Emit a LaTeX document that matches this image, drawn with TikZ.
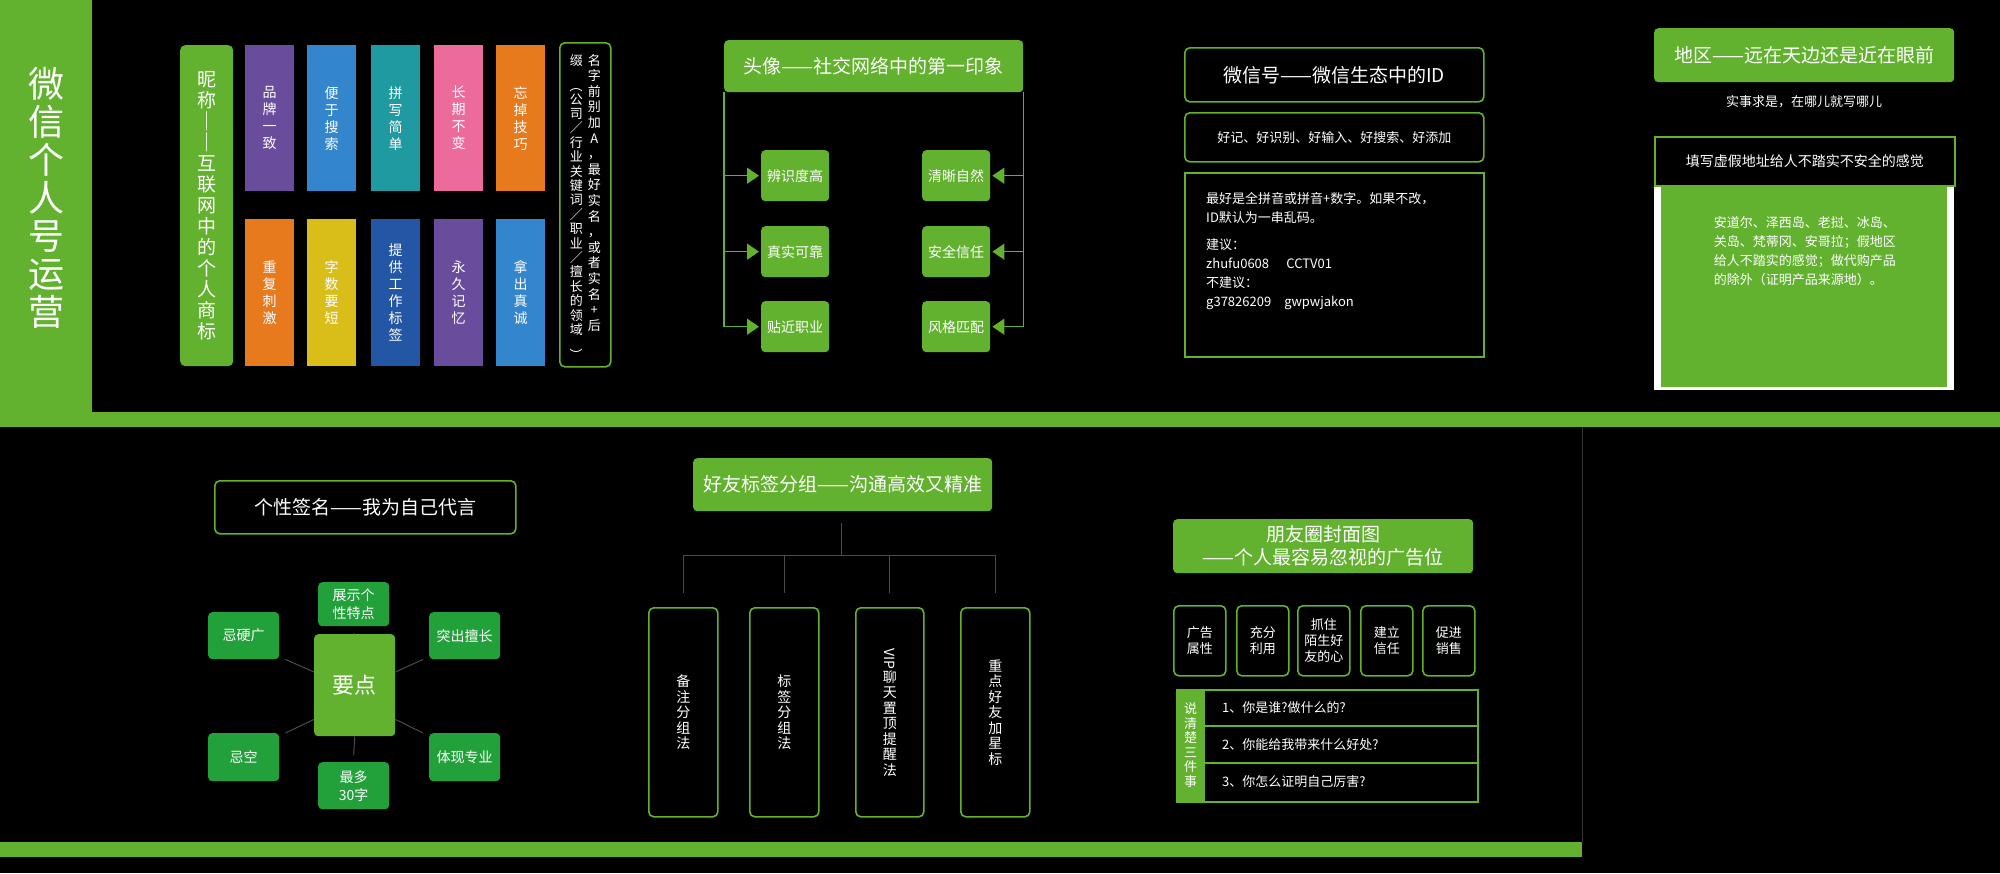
\documentclass[tikz,border=0pt]{standalone}
\usepackage{fontspec}
\setmainfont{Noto Sans CJK SC}
\XeTeXlinebreaklocale "zh"
\XeTeXlinebreakskip=0pt plus 1pt
\usetikzlibrary{shapes,arrows,arrows.meta,positioning,calc}
\usepackage{xcolor}
\definecolor{wgreen}{HTML}{62B22F}
\definecolor{dgreen}{HTML}{22A03A}
\definecolor{cpurple}{HTML}{6A4C9C}
\definecolor{cblue}{HTML}{3385CC}
\definecolor{cteal}{HTML}{1E9AA0}
\definecolor{cpink}{HTML}{EC6A9C}
\definecolor{corange}{HTML}{E87A1E}
\definecolor{cyellow}{HTML}{D9BE1A}
\definecolor{cdblue}{HTML}{2456A6}
\newcommand{\fs}[2]{\fontsize{#1pt}{#2pt}\selectfont}
\tikzset{
  box/.style={inner sep=0pt, text=white, align=center},
  gbox/.style={box, fill=wgreen, rounded corners=4pt},
  obox/.style={box, draw=wgreen, line width=1.6pt, fill=black, rounded corners=5pt},
  bar/.style={box, text width=15pt, font=\fs{14}{17}},
  vtext/.style={text=white, align=center, inner sep=0pt},
  link/.style={draw=wgreen, line width=1.4pt},
  gline/.style={draw=gray!60!black, line width=1pt},
}
\newcommand{\rect}[5][]{\node[#1, minimum width=#4-#2, minimum height=#5-#3, anchor=north west] at (#2,#3)}
\begin{document}
\begin{tikzpicture}[x=1pt,y=-1pt]
\fill[black] (0,0) rectangle (2000,873);
\useasboundingbox (0,0) rectangle (2000,873);
% frame bands
\fill[wgreen] (0,0) rectangle (92,427);
\fill[wgreen] (92,412) rectangle (2000,427);
\fill[wgreen] (0,842) rectangle (1582,857);
\draw[gray!40!black, line width=1pt] (1582,427) -- (1582,842);
\node[vtext, text width=40pt, font=\fs{36}{38}] (title) at (46,198) {微信个人号运营};
% nickname
\rect[gbox, rounded corners=5pt]{180}{45}{233}{366} (nick) {};
\node[vtext, text width=20pt, font=\fs{19}{21}] at (nick) {昵称｜｜互联网中的个人商标};
\foreach \x/\c/\t in {245/cpurple/品牌一致, 307/cblue/便于搜索, 371/cteal/拼写简单, 434/cpink/长期不变, 496/corange/忘掉技巧}
  \rect[fill=\c, bar]{\x}{45}{\x+49}{191} (top\x) {\t};
\foreach \x/\c/\t in {245/corange/重复刺激, 307/cyellow/字数要短, 371/cdblue/提供工作标签, 434/cpurple/永久记忆, 496/cblue/拿出真诚}
  \rect[fill=\c, bar]{\x}{219}{\x+49}{366} (bot\x) {\t};
\rect[obox]{559}{42}{610}{366} (prefix) {};
\node[vtext, font=\fs{13}{15.6}, anchor=north] at ([xshift=9pt,yshift=-12pt]prefix.north)
  {名\\字\\前\\别\\加\\A\\，\\最\\好\\实\\名\\，\\或\\者\\实\\名\\+\\后};
\node[vtext, font=\fs{13}{14.4}, anchor=north] at ([xshift=-9pt,yshift=-12pt]prefix.north)
  {缀\\\rotatebox{-90}{（}\\公\\司\\／\\行\\业\\关\\键\\词\\／\\职\\业\\／\\擅\\长\\的\\领\\域\\\rotatebox{-90}{）}};
% avatar
\rect[gbox, font=\fs{19}{23}]{724}{40}{1023}{92} (avatar) {头像——社交网络中的第一印象};
\coordinate (al) at (avatar.south west);
\coordinate (ar) at (avatar.south east);
\foreach \y/\l/\r [count=\i] in {150/辨识度高/清晰自然, 226/真实可靠/安全信任, 301/贴近职业/风格匹配} {
  \rect[gbox, font=\fs{14}{17}]{761}{\y}{829}{\y+51} (al\i) {\l};
  \rect[gbox, font=\fs{14}{17}]{922}{\y}{990}{\y+51} (ar\i) {\r};
  \draw[link, -{Triangle[width=16pt,length=12pt]}] (al|-al\i.west) -- ([xshift=-2pt]al\i.west);
  \draw[link, -{Triangle[width=16pt,length=12pt]}] (ar|-ar\i.east) -- ([xshift=2pt]ar\i.east);
}
\draw[link] (al) -- (al|-al3.west);
\draw[link] (ar) -- (ar|-ar3.east);
% wechat id
\rect[obox, font=\fs{19}{23}]{1184}{47}{1483}{101} (wxid) {微信号——微信生态中的ID};
\rect[obox, font=\fs{13}{16}]{1184}{112}{1483}{161} (easy) {好记、好识别、好输入、好搜索、好添加};
\rect[obox, rounded corners=0pt, line width=2.4pt]{1184}{172}{1483}{356} (idtip) {};
\node[vtext, align=left, text width=270pt, font=\fs{13}{19}, anchor=north west] at ([xshift=22pt,yshift=-20pt]idtip.north west)
  {最好是全拼音或拼音+数字。如果不改，\\ID默认为一串乱码。\\[8pt]建议：\\zhufu0608\quad\ CCTV01\\不建议：\\g37826209\quad gwpwjakon};
% region
\rect[gbox, font=\fs{19}{23}]{1654}{28}{1954}{82} (region) {地区——远在天边还是近在眼前};
\node[vtext, font=\fs{13}{16}, below=13pt of region] (truth) {实事求是，在哪儿就写哪儿};
\rect[fill=white]{1654}{185}{1954}{390} (fakebg) {};
\fill[wgreen] (1661,185) rectangle (1947,387);
\rect[obox, rounded corners=0pt, font=\fs{14}{17}]{1654}{136}{1954}{185} (fake) {填写虚假地址给人不踏实不安全的感觉};
\node[vtext, text width=182pt, align=justify, font=\fs{13}{19}, anchor=north] at ([yshift=-30pt]fake.south)
  {安道尔、泽西岛、老挝、冰岛、关岛、梵蒂冈、安哥拉；假地区给人不踏实的感觉；做代购产品的除外（证明产品来源地）。};
% signature
\rect[obox, font=\fs{19}{23}]{214}{480}{515}{533} (sign) {个性签名——我为自己代言};
\rect[gbox, font=\fs{22}{26}]{314}{634}{395}{736} (key) {要点};
\rect[gbox, fill=dgreen, font=\fs{14}{18}]{318}{582}{389}{626} (show) {展示个\\性特点};
\rect[gbox, fill=dgreen, font=\fs{14}{18}]{318}{762}{389}{809} (max) {最多\\30字};
\rect[gbox, fill=dgreen, font=\fs{14}{18}]{208}{612}{279}{659} (ad) {忌硬广};
\rect[gbox, fill=dgreen, font=\fs{14}{18}]{208}{733}{279}{781} (empty) {忌空};
\rect[gbox, fill=dgreen, font=\fs{14}{18}]{429}{612}{500}{659} (skill) {突出擅长};
\rect[gbox, fill=dgreen, font=\fs{14}{18}]{429}{733}{500}{781} (pro) {体现专业};
\draw[gline] (key.north) -- ([yshift=-7pt]show.south);
\draw[gline] (key.south) -- ([yshift=7pt]max.north);
\draw[gline] ([yshift=-38pt]key.north west) -- ([xshift=6pt]ad.south east);
\draw[gline] ([yshift=17pt]key.south west) -- ([xshift=6pt]empty.north east);
\draw[gline] ([yshift=-38pt]key.north east) -- ([xshift=-6pt]skill.south west);
\draw[gline] ([yshift=17pt]key.south east) -- ([xshift=-6pt]pro.north west);
% friend tags
\rect[gbox, font=\fs{19}{23}]{693}{458}{992}{511} (tags) {好友标签分组——沟通高效又精准};
\coordinate (hub) at (841,555);
\draw[gline] (841,523) -- (hub);
\foreach \x/\t [count=\i] in {648/备注分组法, 749/标签分组法, 960/重点好友加星标} {
  \rect[obox]{\x}{607}{\x+69}{816} (tag\i) {};
  \node[vtext, text width=15pt, font=\fs{14}{15.5}] at (tag\i) {\t};
}
\rect[obox]{855}{607}{923}{816} (tag4) {};
\node[vtext, font=\fs{14}{15.5}] at (tag4) {\rotatebox{-90}{VIP}\\聊\\天\\置\\顶\\提\\醒\\法};
\draw[gline] (tag1.north |- hub) -- (tag3.north |- hub);
\foreach \n in {tag1,tag2,tag4,tag3}
  \draw[gline] (\n.north |- hub) -- ([yshift=14pt]\n.north);
% moments cover
\rect[gbox, font=\fs{19}{23}]{1173}{519}{1473}{573} (cover) {朋友圈封面图\\——个人最容易忽视的广告位};
\foreach \x/\t [count=\i] in {1173/广告\\属性, 1236/充分\\利用, 1297/抓住\\陌生好\\友的心, 1360/建立\\信任, 1422/促进\\销售}
  \rect[obox, font=\fs{13}{16}]{\x}{605}{\x+52}{675} (use\i) {\t};
\rect[draw=wgreen, line width=1.6pt, fill=black]{1176}{689}{1477}{801} (three) {};
\rect[fill=wgreen, box, text width=14pt, font=\fs{13}{14.5}]{1176}{689}{1205}{801} (threel) {说清楚三件事};
\draw[link] (1205,726) -- (1477,726);
\draw[link] (1205,763) -- (1477,763);
\node[vtext, font=\fs{13}{16}, anchor=west] (q1) at (1222,708) {1、你是谁?做什么的?};
\node[vtext, font=\fs{13}{16}, anchor=west] (q2) at (1222,745) {2、你能给我带来什么好处?};
\node[vtext, font=\fs{13}{16}, anchor=west] (q3) at (1222,782) {3、你怎么证明自己厉害?};
\end{tikzpicture}
\end{document}
